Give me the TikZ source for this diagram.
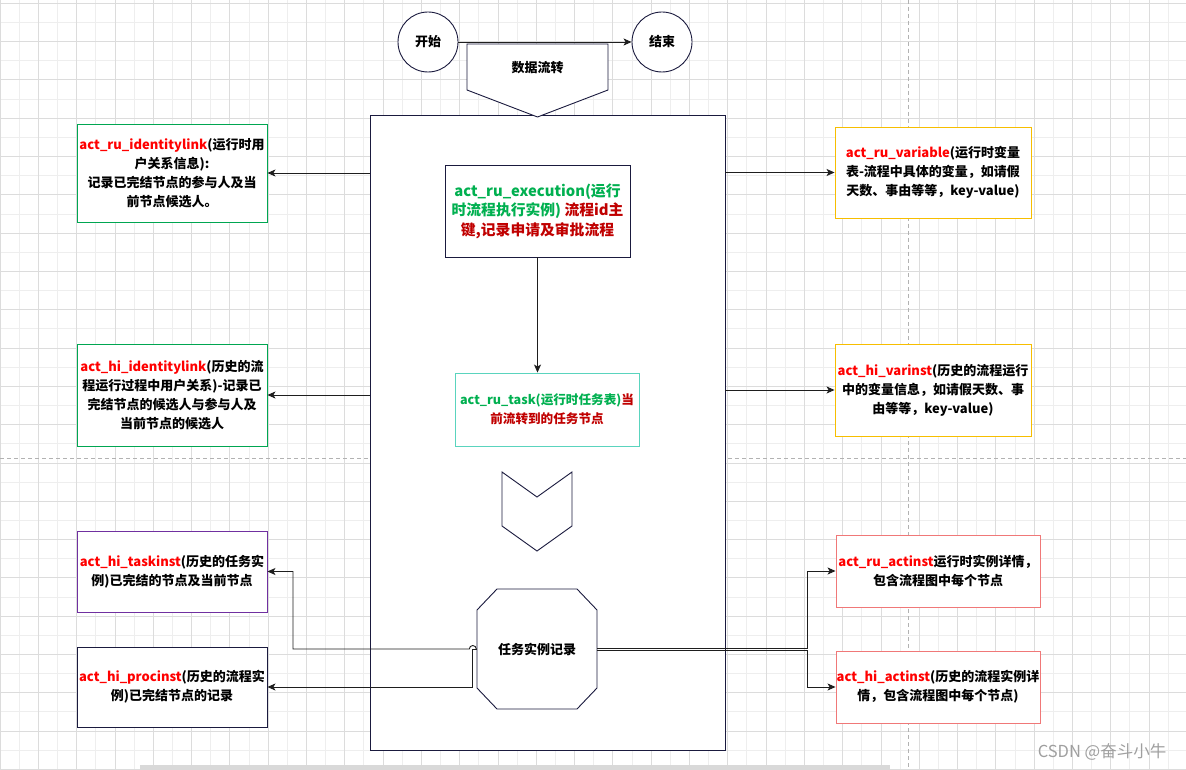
\documentclass[tikz,border=0pt]{standalone}
\usepackage{fontspec}
\setmainfont{Noto Sans CJK SC}
\usetikzlibrary{arrows.meta, calc}
\definecolor{myred}{RGB}{255,0,0}
\definecolor{mydarkred}{RGB}{192,0,0}
\definecolor{mygreen}{RGB}{0,176,80}
\definecolor{mynavy}{RGB}{26,26,62}
\definecolor{myline}{RGB}{30,30,30}
\definecolor{boxgreen}{RGB}{0,166,81}
\definecolor{boxpurple}{RGB}{112,48,160}
\definecolor{boxyellow}{RGB}{247,190,0}
\definecolor{boxpink}{RGB}{240,120,120}
\definecolor{boxteal}{RGB}{90,212,190}
\definecolor{gridmajor}{RGB}{220,220,220}
\definecolor{gridminor}{RGB}{238,238,238}
\newcommand{\tname}[1]{\textcolor{myred}{#1}}

\begin{document}
\begin{tikzpicture}[x=1pt,y=-1pt]
		\tikzset{tbox/.style={draw,rectangle,fill=white,line width=0.9pt,align=center,inner sep=0pt,font=\bfseries\fontsize{13}{19}\selectfont}}
		\tikzset{circ/.style={draw=mynavy,circle,fill=white,line width=0.9pt,minimum size=60pt,inner sep=0pt,font=\bfseries\fontsize{13}{16}\selectfont}}
		\tikzset{outline/.style={draw=mynavy,fill=white,line width=0.9pt}}
		\tikzset{edge/.style={-{Stealth[length=8pt,width=7pt,inset=2pt]}, line width=0.9pt, draw=myline}}
		\tikzset{pagebreak/.style={draw=gray!60, line width=0.8pt, dash pattern=on 4pt off 3pt}}
		
		\useasboundingbox (0,0) rectangle (1186,770);
		\fill[white] (0,0) rectangle (1186,770);
		
		% grid
		\foreach \gx in {0,19.15,...,1190} \draw[gridminor, line width=0.8pt] (\gx,0) -- (\gx,770);
		\foreach \gy in {3.3,22.45,...,770} \draw[gridminor, line width=0.8pt] (0,\gy) -- (1186,\gy);
		\foreach \gx in {0,38.3,...,1190} \draw[gridmajor, line width=0.8pt] (\gx,0) -- (\gx,770);
		\foreach \gy in {3.3,41.6,...,770} \draw[gridmajor, line width=0.8pt] (0,\gy) -- (1186,\gy);
		\draw[pagebreak] (0,458) -- (1186,458);
		\draw[pagebreak] (908,0) -- (908,770);
		\fill[gray!30] (140,765) rectangle (890,770);
		
		\node(main) at (547.5,432.5) [outline,minimum width=355pt,minimum height=635pt,inner sep=0pt] {};
		
		\node(start) at (428,42) [circ] {开始};
		\node(finish) at (662,42) [circ] {结束};
		
		\draw[outline] (467,44) -- (608,44) -- (608,90) -- (537.5,117) -- (467,90) -- cycle;
		\node(flow) at (537.5,68) [font=\bfseries\fontsize{13}{16}\selectfont] {数据流转};
		
		\node(exec) at (537.5,211) [tbox,draw=mynavy,minimum width=185pt,minimum height=92pt,font=\bfseries\fontsize{14.8}{19.5}\selectfont]
			{\textcolor{mygreen}{act\_ru\_execution(运行}\\\textcolor{mygreen}{时流程执行实例)} \textcolor{mydarkred}{流程id主}\\\textcolor{mydarkred}{键,记录申请及审批流程}};
		\node(task) at (547,409.5) [tbox,draw=boxteal,minimum width=184pt,minimum height=73pt,font=\bfseries\fontsize{12.6}{19}\selectfont]
			{\textcolor{mygreen}{act\_ru\_task(运行时任务表)}\textcolor{mydarkred}{当}\\\textcolor{mydarkred}{前流转到的任务节点}};
		
		\draw[outline] (502,472) -- (537,497) -- (572,472) -- (572,526) -- (537,551) -- (502,526) -- cycle;
		
		\draw[outline] (477,610) -- (497,589) -- (577,589) -- (597,610) -- (597,688) -- (577,709) -- (497,709) -- (477,688) -- cycle;
		\node(rec) at (537,649) [minimum width=120pt,minimum height=120pt,inner sep=0pt,font=\bfseries\fontsize{13}{16}\selectfont] {任务实例记录};
		
		\node(ru_idlink) at (172,173) [tbox,draw=boxgreen,minimum width=190pt,minimum height=98pt]
			{\tname{act\_ru\_identitylink}(运行时用\\户关系信息):\\记录已完结节点的参与人及当\\前节点候选人。};
		\node(hi_idlink) at (172,395) [tbox,draw=boxgreen,minimum width=190pt,minimum height=102pt]
			{\tname{act\_hi\_identitylink}(历史的流\\程运行过程中用户关系)-记录已\\完结节点的候选人与参与人及\\当前节点的候选人};
		\node(taskinst) at (172,571.5) [tbox,draw=boxpurple,minimum width=190pt,minimum height=81pt]
			{\tname{act\_hi\_taskinst}(历史的任务实\\例)已完结的节点及当前节点};
		\node(procinst) at (172,687) [tbox,draw=mynavy,minimum width=190pt,minimum height=80pt]
			{\tname{act\_hi\_procinst}(历史的流程实\\例)已完结节点的记录};
		
		\node(ru_var) at (933,172.5) [tbox,draw=boxyellow,minimum width=196pt,minimum height=91pt]
			{\tname{act\_ru\_variable}(运行时变量\\表-流程中具体的变量，如请假\\天数、事由等等，key-value)};
		\node(hi_var) at (933,390) [tbox,draw=boxyellow,minimum width=196pt,minimum height=92pt]
			{\tname{act\_hi\_varinst}(历史的流程运行\\中的变量信息，如请假天数、事\\由等等，key-value)};
		\node(ru_act) at (938,571) [tbox,draw=boxpink,minimum width=204pt,minimum height=72pt]
			{\tname{act\_ru\_actinst}运行时实例详情，\\包含流程图中每个节点};
		\node(hi_act) at (938,687) [tbox,draw=boxpink,minimum width=204pt,minimum height=72pt]
			{\tname{act\_hi\_actinst}(历史的流程实例详\\情，包含流程图中每个节点)};
		
		\node(mark) at (1102,752) [text=gray!75,font=\fontsize{16.5}{16.5}\selectfont] {CSDN @奋斗小牛};
		
		\coordinate(jump) at ($(rec.west)+(-4,0)$);
		\coordinate(bendL) at (293,649);
		\coordinate(bendR) at (807,649);
		
		\draw[edge] (start) -- (finish);
		\draw[edge] (exec) -- (exec.south |- task.north);
		
		\draw[edge] (main.west |- ru_idlink) -- (ru_idlink);
		\draw[edge] (main.west |- hi_idlink) -- (hi_idlink);
		\draw[edge] (main.east |- ru_var) -- (ru_var);
		\draw[edge] (main.east |- hi_var) -- (hi_var);
		
		\draw[edge] (rec.west) -- (jump) |- (procinst);
		\draw[edge] (rec.west) -- ($(jump)+(3.5,0)$) arc (0:-180:3.5) -- (bendL) |- (taskinst);
		\draw[edge] ([yshift=1pt]rec.east) -- ([yshift=1pt]bendR) |- (ru_act);
		\draw[edge] ([yshift=-1pt]rec.east) -- ([yshift=-1pt]bendR) |- (hi_act);
\end{tikzpicture}
\end{document}
